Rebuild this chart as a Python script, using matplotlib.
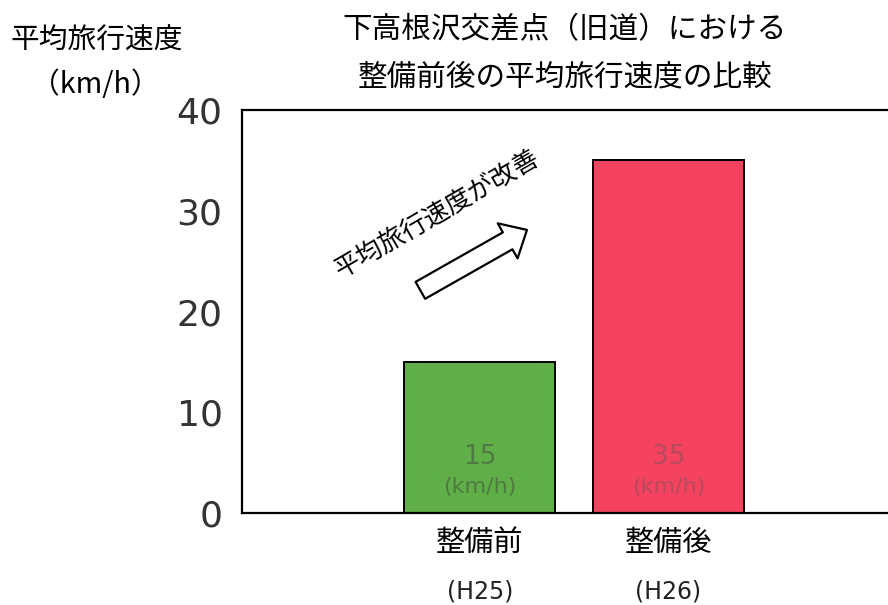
import matplotlib
matplotlib.use("Agg")
import matplotlib.pyplot as plt
from matplotlib.patches import FancyArrowPatch

plt.rcParams['font.family'] = ['Noto Sans CJK JP', 'DejaVu Sans']

categories = ["整備前", "整備後"]
years = ["(H25)", "(H26)"]
speeds = [15, 35]
bar_colors = ["#5fae48", "#f5435f"]
label_colors = ["#4f7b42", "#b84a5e"]
yticks = [0, 10, 20, 30, 40]

fig = plt.figure(figsize=(8.88, 6.05), dpi=100)
ax = fig.add_axes([242 / 888, 92 / 605, 1 - 242 / 888 + 0.01, 403 / 605])

x = list(range(len(categories)))
ax.bar(x, speeds, width=0.8, color=bar_colors, edgecolor="black", linewidth=1.4)

for xi, v, c in zip(x, speeds, label_colors):
    ax.text(xi, 5.6, f"{v}", ha="center", va="center", fontsize=19,
            color=c, family="DejaVu Sans")
    ax.text(xi, 2.6, "(km/h)", ha="center", va="center", fontsize=16,
            color=c, family="DejaVu Sans")

ax.set_xlim(-1.26, 2.21)
ax.set_ylim(0, 40)
ax.set_yticks(yticks)
ax.set_yticklabels([str(t) for t in yticks], fontsize=26, family="DejaVu Sans",
                   color="#333333")
ax.tick_params(axis="y", length=0, pad=14)
ax.set_xticks(x)
ax.set_xticklabels(categories, fontsize=21)
ax.tick_params(axis="x", length=0, pad=11)

for xi, yr in zip(x, years):
    ax.text(xi, -0.196, yr, transform=ax.get_xaxis_transform(), ha="center",
            va="center", fontsize=17, family="DejaVu Sans", color="#222222")

for s in ["left", "top", "bottom"]:
    ax.spines[s].set_linewidth(1.6)
ax.spines["right"].set_visible(False)

# hollow arrow and its caption
arrow = FancyArrowPatch((-0.315, 22.1), (0.25, 28.1),
                        arrowstyle="simple,head_length=16,head_width=29,tail_width=14",
                        mutation_scale=1, facecolor="white", edgecolor="black",
                        linewidth=1.6, shrinkA=0, shrinkB=0)
ax.add_patch(arrow)
ax.text(-0.225, 29.7, "平均旅行速度が改善", rotation=30, ha="center", va="center",
        fontsize=18.5, rotation_mode="anchor")

fig.text(0.636, 0.951, "下高根沢交差点（旧道）における", ha="center", va="center",
         fontsize=21.3)
fig.text(0.636, 0.873, "整備前後の平均旅行速度の比較", ha="center", va="center",
         fontsize=21.3)
fig.text(0.109, 0.932, "平均旅行速度", ha="center", va="center", fontsize=20.7)
fig.text(0.107, 0.859, "（km/h）", ha="center", va="center", fontsize=20.7)

fig.savefig("out.png", dpi=100)
